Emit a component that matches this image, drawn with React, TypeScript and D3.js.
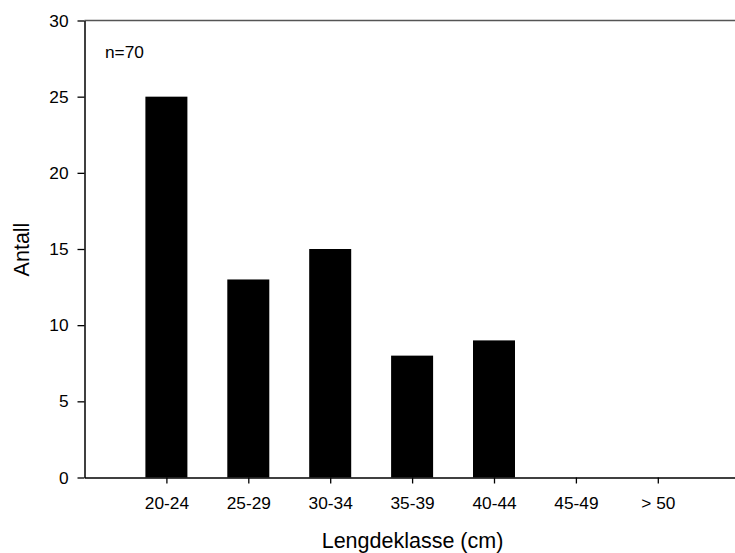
import { useRef, useEffect } from "react";
import * as d3 from "d3";

const categories = ["20-24", "25-29", "30-34", "35-39", "40-44", "45-49", "> 50"];
const counts = [25, 13, 15, 8, 9, 0, 0];
const yTicks = [0, 5, 10, 15, 20, 25, 30];

const App = () => {
  const chartRef = useRef<SVGSVGElement>(null);

  useEffect(() => {
    const svg = d3.select(chartRef.current);
    svg.selectAll("*").remove();

    const left = 84.5;
    const step = 81.9;
    const top = 20.5;
    const bottom = 477.5;

    const x = d3
      .scaleLinear()
      .domain([0, categories.length + 1])
      .range([left, left + step * (categories.length + 1)]);

    const y = d3.scaleLinear().domain([0, 30]).range([bottom, top]);

    const font = "Liberation Sans, Arial, sans-serif";
    const tickFont = 17.3;

    // top frame line
    svg
      .append("line")
      .attr("x1", left)
      .attr("x2", 735)
      .attr("y1", top)
      .attr("y2", top)
      .attr("stroke", "#555")
      .attr("stroke-width", 1.5);

    // bars
    const barWidth = 42;
    svg
      .selectAll(".bar")
      .data(counts)
      .enter()
      .append("rect")
      .attr("class", "bar")
      .attr("x", (_d, i) => x(i + 1) - barWidth / 2)
      .attr("y", d => y(d))
      .attr("width", barWidth)
      .attr("height", d => bottom - y(d))
      .attr("fill", "#000");

    // y axis
    const yAxis = svg
      .append("g")
      .attr("transform", `translate(${left}, 0)`)
      .call(d3.axisLeft(y).tickValues(yTicks).tickSize(7).tickPadding(9).tickSizeOuter(0));
    yAxis.select(".domain").attr("stroke", "#000").attr("stroke-width", 1.5);
    yAxis.selectAll(".tick line").attr("stroke", "#000").attr("stroke-width", 1.3);
    yAxis
      .selectAll(".tick text")
      .attr("font-family", font)
      .attr("font-size", tickFont)
      .attr("fill", "#000");

    // x axis
    const xAxis = svg
      .append("g")
      .attr("transform", `translate(0, ${bottom})`)
      .call(
        d3
          .axisBottom(x)
          .tickValues(d3.range(1, categories.length + 1))
          .tickFormat((_d, i) => categories[i])
          .tickSize(6)
          .tickPadding(13)
          .tickSizeOuter(0)
      );
    xAxis.select(".domain").attr("stroke", "#000").attr("stroke-width", 1.5);
    xAxis.selectAll(".tick line").attr("stroke", "#000").attr("stroke-width", 1.3);
    xAxis
      .selectAll(".tick text")
      .attr("font-family", font)
      .attr("font-size", tickFont)
      .attr("fill", "#000");

    // labels
    svg
      .append("text")
      .attr("x", 412.5)
      .attr("y", 548)
      .attr("text-anchor", "middle")
      .attr("font-family", font)
      .attr("font-size", 21.5)
      .text("Lengdeklasse (cm)");

    svg
      .append("text")
      .attr("transform", `translate(28.5, 249.5) rotate(-90)`)
      .attr("text-anchor", "middle")
      .attr("font-family", font)
      .attr("font-size", 21.5)
      .text("Antall");

    svg
      .append("text")
      .attr("x", 105)
      .attr("y", 58)
      .attr("font-family", font)
      .attr("font-size", tickFont)
      .text("n=70");
  }, []);

  return (
    <svg
      ref={chartRef}
      width={735}
      height={553}
      style={{ position: "absolute", left: 0, top: 0, background: "#fff" }}
    />
  );
};

export default App;
